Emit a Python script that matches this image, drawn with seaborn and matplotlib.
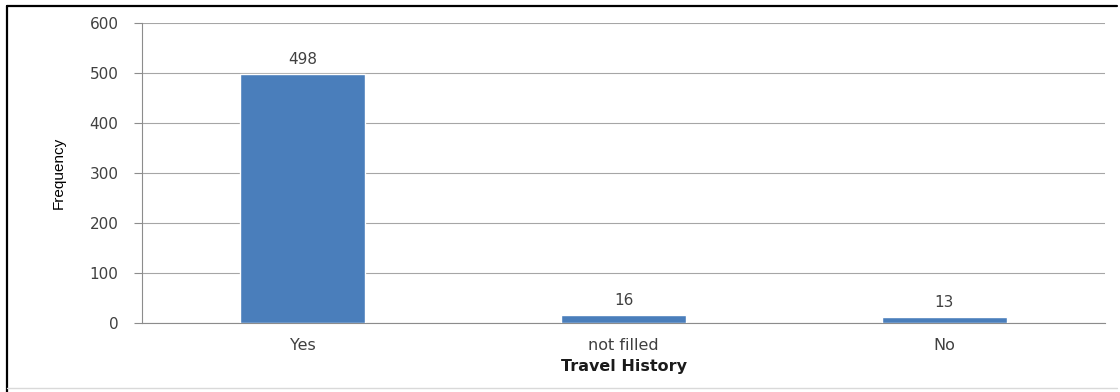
import matplotlib
matplotlib.use("Agg")
import matplotlib.pyplot as plt
from matplotlib.lines import Line2D
import seaborn as sns
import pandas as pd

categories = ["Yes", "not filled", "No"]
frequency = [498, 16, 13]
y_ticks = [0, 100, 200, 300, 400, 500, 600]

df = pd.DataFrame({"Travel History": categories, "Frequency": frequency})

sns.set_theme(style="white")
plt.rcParams["font.family"] = ["DejaVu Sans"]

fig = plt.figure(figsize=(11.2, 3.92), dpi=100)
fig.patch.set_facecolor("white")
ax = fig.add_axes([0.1268, 0.176, 0.8598, 0.7653])

sns.barplot(data=df, x="Travel History", y="Frequency", order=categories,
            color="#4a7ebb", saturation=1, width=0.39, ax=ax, zorder=3)

ax.set_ylim(0, 600)
ax.set_yticks(y_ticks)
ax.set_xlim(-0.5, 2.5)
ax.yaxis.grid(True, color="#a6a6a6", linewidth=0.8, zorder=0)
ax.xaxis.grid(False)

for side in ["top", "right"]:
    ax.spines[side].set_visible(False)
for side in ["left", "bottom"]:
    ax.spines[side].set_color("#8c8c8c")
    ax.spines[side].set_linewidth(0.8)

ax.tick_params(axis="y", which="both", left=True, length=6, width=0.8,
               color="#8c8c8c", labelsize=11, labelcolor="#404040", pad=11)
ax.tick_params(axis="x", bottom=False, labelsize=11.5, labelcolor="#404040", pad=5)

for cont in ax.containers:
    ax.bar_label(cont, labels=[str(v) for v in frequency], padding=5,
                 fontsize=11, color="#404040")

ax.set_ylabel("Frequency", fontsize=11, family="Liberation Sans",
              color="black", labelpad=17)
ax.set_xlabel("Travel History", fontsize=11.5, fontweight="bold",
              color="#1a1a1a", labelpad=4)

# chart frame
fig.add_artist(Line2D([7 / 1120, 1117 / 1120], [1 - 6 / 392, 1 - 6 / 392],
                      transform=fig.transFigure, color="black", linewidth=1.6))
fig.add_artist(Line2D([7 / 1120, 7 / 1120], [0, 1 - 6 / 392],
                      transform=fig.transFigure, color="black", linewidth=1.6))
fig.add_artist(Line2D([7 / 1120, 1117 / 1120], [4 / 392, 4 / 392],
                      transform=fig.transFigure, color="#d9d9d9", linewidth=1.0))

fig.savefig("out.png", dpi=100, facecolor="white")
